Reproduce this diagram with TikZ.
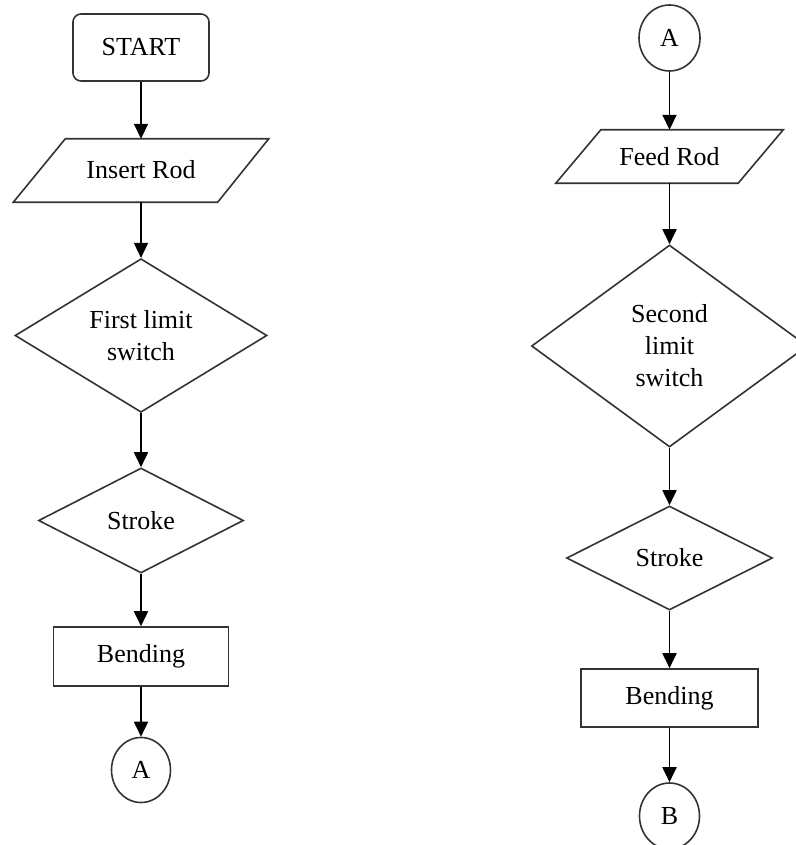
\documentclass[tikz,border=0pt]{standalone}
\usepackage{fontspec}
\setmainfont{Liberation Serif}
\usetikzlibrary{shapes.geometric,arrows.meta}
\begin{document}
\begin{tikzpicture}[x=1pt,y=-1pt,
  every node/.style={font=\fontsize{26}{32}\selectfont, text=black, inner sep=0pt},
  shp/.style={draw=black!80, line width=1.6pt},
  termbox/.style={shp, rectangle, rounded corners=8pt},
  procbox/.style={shp, rectangle},
  dec/.style={shp, diamond, align=center},
  conn/.style={shp, ellipse},
  iobox/.style={rectangle, draw=none},
  flow/.style={draw=black, line width=1.8pt, -{Triangle[length=15pt,width=14pt]}}
]
\useasboundingbox (0,0) rectangle (795,845);
% left column
\node[termbox, minimum width=136pt, minimum height=67pt] (start) at (141,47.5) {START};
\node[iobox, minimum width=255pt, minimum height=63pt] (ir) at (141,170.5) {\raisebox{1.5pt}{Insert Rod}};
\draw[shp] ([xshift=52pt]ir.north west) -- (ir.north east) -- ([xshift=-51pt]ir.south east) -- (ir.south west) -- cycle;
\node[dec, minimum width=252pt, minimum height=153pt] (d1) at (141,335.5) {First limit\\switch};
\node[dec, minimum width=205pt, minimum height=105pt] (s1) at (141,520.5) {Stroke};
\node[procbox, minimum width=175pt, minimum height=59pt] (b1) at (141,656.5) {Bending};
\node[conn, minimum width=59pt, minimum height=65pt] (a1) at (141,770) {A};
\draw[flow] (start.south) -- (ir.north);
\draw[flow] (ir.south) -- (d1.north);
\draw[flow] (d1.south) -- (s1.north);
\draw[flow] (s1.south) -- (b1.north);
\draw[flow] (b1.south) -- (a1.north);
% right column
\node[conn, minimum width=61pt, minimum height=66pt] (a2) at (669.5,38) {A};
\node[iobox, minimum width=227pt, minimum height=53pt] (fr) at (669.5,156.5) {Feed Rod};
\draw[shp] ([xshift=45pt]fr.north west) -- (fr.north east) -- ([xshift=-45pt]fr.south east) -- (fr.south west) -- cycle;
\node[dec, minimum width=276pt, minimum height=202pt] (d2) at (669.5,346) {Second\\limit\\switch};
\node[dec, minimum width=206pt, minimum height=104pt] (s2) at (669.5,558) {Stroke};
\node[procbox, minimum width=177pt, minimum height=58pt] (b2) at (669.5,698) {Bending};
\node[conn, minimum width=60pt, minimum height=66pt] (bb) at (669.5,816) {B};
\draw[flow] (a2.south) -- (fr.north);
\draw[flow] (fr.south) -- (d2.north);
\draw[flow] (d2.south) -- (s2.north);
\draw[flow] (s2.south) -- (b2.north);
\draw[flow] (b2.south) -- (bb.north);
\end{tikzpicture}
\end{document}
